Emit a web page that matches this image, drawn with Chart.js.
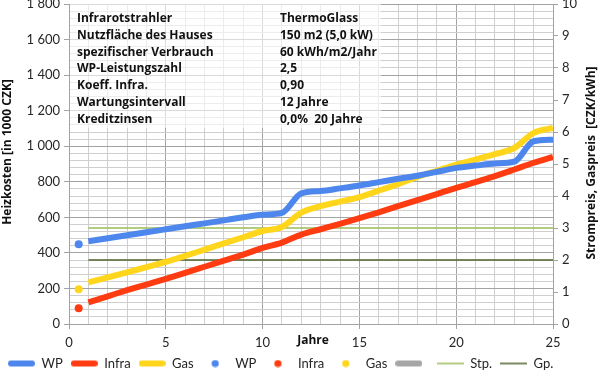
<!DOCTYPE html>
<html>
<head>
<meta charset="utf-8">
<script src="https://cdn.jsdelivr.net/npm/chart.js@4/dist/chart.umd.min.js"></script>
<style>
  html, body { margin: 0; padding: 0; background: #fff; }
  #wrap { width: 600px; height: 373px; }
</style>
</head>
<body>
<div id="wrap"><canvas id="myChart"></canvas></div>
<script>
// Daten
const jahre = [1,2,3,4,5,6,7,8,9,10,11,12,13,14,15,16,17,18,19,20,21,22,23,24,25];
const wp    = [465,482,499,516,533,550,566,583,600,615,625,735,748,763,779,798,817,834,856,878,891,903,913,1028,1037];
const infra = [122,156,190,222,254,288,322,356,390,428,458,503,533,563,595,628,663,697,731,766,798,832,869,907,940];
const gas   = [234,262,290,320,349,383,418,453,488,523,546,626,663,688,714,750,787,828,862,897,925,955,990,1075,1103];
const startJahr = 0.5;
const wpStart = 449, infraStart = 88, gasStart = 196;
const strompreis = 3, gaspreis = 2;   // CZK/kWh
const infoLinks  = ["Infrarotstrahler","Nutzfläche des Hauses","spezifischer Verbrauch","WP-Leistungszahl","Koeff. Infra.","Wartungsintervall","Kreditzinsen"];
const infoRechts = ["ThermoGlass","150 m2 (5,0 kW)","60 kWh/m2/Jahr","2,5","0,90","12 Jahre","0,0%  20 Jahre"];

const BLAU = '#4d86ec', ROT = '#ff3b12', GELB = '#ffd61c';
const FONT = 'Lato, "Open Sans", sans-serif';
const FETT = '"Open Sans", Lato, sans-serif';

const pts = (arr) => jahre.map((j, i) => ({x: j, y: arr[i]}));
const flach = (v) => [{x: 1, y: v}, {x: 25, y: v}];

// Legenden-Symbole
const IW = 27;
function linie(farbe, lw) {
  const c = document.createElement('canvas');
  c.width = IW; c.height = 8;
  const g = c.getContext('2d');
  g.strokeStyle = farbe; g.lineWidth = lw; g.lineCap = lw > 3 ? 'round' : 'butt';
  g.beginPath(); g.moveTo(lw > 3 ? 3 : 0, 4); g.lineTo(lw > 3 ? IW - 3 : IW, 4); g.stroke();
  return c;
}
function punkt(farbe) {
  const c = document.createElement('canvas');
  c.width = IW; c.height = 8;
  const g = c.getContext('2d');
  g.fillStyle = farbe; g.beginPath(); g.arc(IW / 2, 4, 3.6, 0, Math.PI * 2); g.fill();
  return c;
}
const icons = [linie(BLAU,6), linie(ROT,6), linie(GELB,6), punkt(BLAU), punkt(ROT), punkt(GELB),
               linie('#a6a6a6',6), linie('#9bbb59',1.5), linie('#4f6228',1.5)];

function senkrecht(c, text, x, y) {
  c.save();
  c.translate(x, y);
  c.rotate(-Math.PI / 2);
  c.fillText(text, 0, 0);
  c.restore();
}

const infoBox = {
  id: 'infoBox',
  beforeDatasetsDraw(chart) {
    const c = chart.ctx, a = chart.chartArea;
    c.save();
    c.fillStyle = 'rgba(255,255,255,0.6)';
    c.fillRect(a.left + 1, a.top, 380 - a.left, 128 - a.top);
    c.fillStyle = '#111';
    c.font = 'bold 12px ' + FETT;
    c.textBaseline = 'middle';
    infoLinks.forEach((t, i) => {
      c.fillText(t, 77, 18.5 + i * 16.8);
      c.fillText(infoRechts[i], 280, 18.5 + i * 16.8);
    });
    c.restore();
  },
  afterDraw(chart) {
    const c = chart.ctx;
    c.save();
    c.fillStyle = '#111';
    c.font = 'bold 12px ' + FETT;
    c.textAlign = 'center'; c.textBaseline = 'middle';
    c.fillText('Jahre', 313, 341);
    senkrecht(c, 'Heizkosten [in 1000 CZK]', 8, 152);
    senkrecht(c, 'Strompreis, Gaspreis  [CZK/kWh]', 592, 163);
    c.restore();
  }
};

const dunkel = '#a3a3a3', hell = '#cfcfcf';

new Chart(document.querySelector('#myChart'), {
  type: 'line',
  data: {
    datasets: [
      {label: 'WP', data: pts(wp), borderColor: BLAU, backgroundColor: BLAU, borderWidth: 6, pointRadius: 0, cubicInterpolationMode: 'monotone'},
      {label: 'Infra', data: pts(infra), borderColor: ROT, backgroundColor: ROT, borderWidth: 6, pointRadius: 0, cubicInterpolationMode: 'monotone'},
      {label: 'Gas', data: pts(gas), borderColor: GELB, backgroundColor: GELB, borderWidth: 6, pointRadius: 0, cubicInterpolationMode: 'monotone'},
      {label: 'WP', data: [{x: startJahr, y: wpStart}], showLine: false, pointRadius: 4, pointBorderWidth: 0, backgroundColor: BLAU, borderColor: BLAU},
      {label: 'Infra', data: [{x: startJahr, y: infraStart}], showLine: false, pointRadius: 4, pointBorderWidth: 0, backgroundColor: ROT, borderColor: ROT},
      {label: 'Gas', data: [{x: startJahr, y: gasStart}], showLine: false, pointRadius: 4, pointBorderWidth: 0, backgroundColor: GELB, borderColor: GELB},
      {label: '', data: [], borderColor: '#a6a6a6', borderWidth: 6, pointRadius: 0},
      {label: 'Stp.', data: flach(strompreis), yAxisID: 'y2', borderColor: '#9bbb59', borderWidth: 1.5, pointRadius: 0},
      {label: 'Gp.', data: flach(gaspreis), yAxisID: 'y2', borderColor: '#4f6228', borderWidth: 1.5, pointRadius: 0}
    ]
  },
  options: {
    responsive: true,
    maintainAspectRatio: false,
    animation: false,
    layout: {padding: {top: 0, bottom: -7, left: 0, right: 0}},
    plugins: {
      tooltip: {enabled: false},
      legend: {
        position: 'bottom',
        align: 'start',
        labels: {
          usePointStyle: true,
          pointStyleWidth: IW,
          boxHeight: 8,
          padding: 8,
          color: '#262626',
          font: {family: FONT, size: 13},
          generateLabels(chart) {
            const items = Chart.defaults.plugins.legend.labels.generateLabels(chart);
            items.forEach((it) => { it.pointStyle = icons[it.datasetIndex]; it.hidden = false; });
            return items;
          }
        }
      }
    },
    scales: {
      x: {
        type: 'linear', min: 0, max: 25,
        ticks: {
          stepSize: 1, autoSkip: false, maxRotation: 0, padding: 6,
          color: '#262626', font: {family: FONT, size: 13},
          callback: (v) => v % 5 === 0 ? String(v) : ''
        },
        grid: {
          color: (c) => c.tick && c.tick.value % 5 === 0 ? dunkel : hell,
          tickColor: (c) => c.tick && c.tick.value % 5 === 0 ? dunkel : 'rgba(0,0,0,0)',
          tickLength: 5
        },
        border: {color: dunkel},
        afterFit(s) { s.height = 25; s.paddingLeft = 0; s.paddingRight = 0; }
      },
      y: {
        position: 'left', min: 0, max: 1800,
        ticks: {
          stepSize: 40, autoSkip: false, padding: 4,
          color: '#262626', font: {family: FONT, size: 13},
          callback: (v) => v % 200 === 0 ? String(v).replace(/\B(?=(\d{3})+(?!\d))/g, ' ') : ''
        },
        grid: {
          color: (c) => c.tick && c.tick.value % 200 === 0 ? dunkel : hell,
          tickColor: (c) => c.tick && c.tick.value % 200 === 0 ? dunkel : 'rgba(0,0,0,0)',
          tickLength: 5
        },
        border: {color: dunkel},
        afterFit(s) { s.width = 69; s.paddingTop = 4; s.paddingBottom = 0; }
      },
      y2: {
        position: 'right', min: 0, max: 10,
        ticks: {stepSize: 1, padding: 4, color: '#262626', font: {family: FONT, size: 13}},
        grid: {drawOnChartArea: false, color: dunkel, tickLength: 5},
        border: {color: dunkel},
        afterFit(s) { s.width = 47; s.paddingTop = 4; s.paddingBottom = 0; }
      }
    }
  },
  plugins: [infoBox]
});
</script>
</body>
</html>
